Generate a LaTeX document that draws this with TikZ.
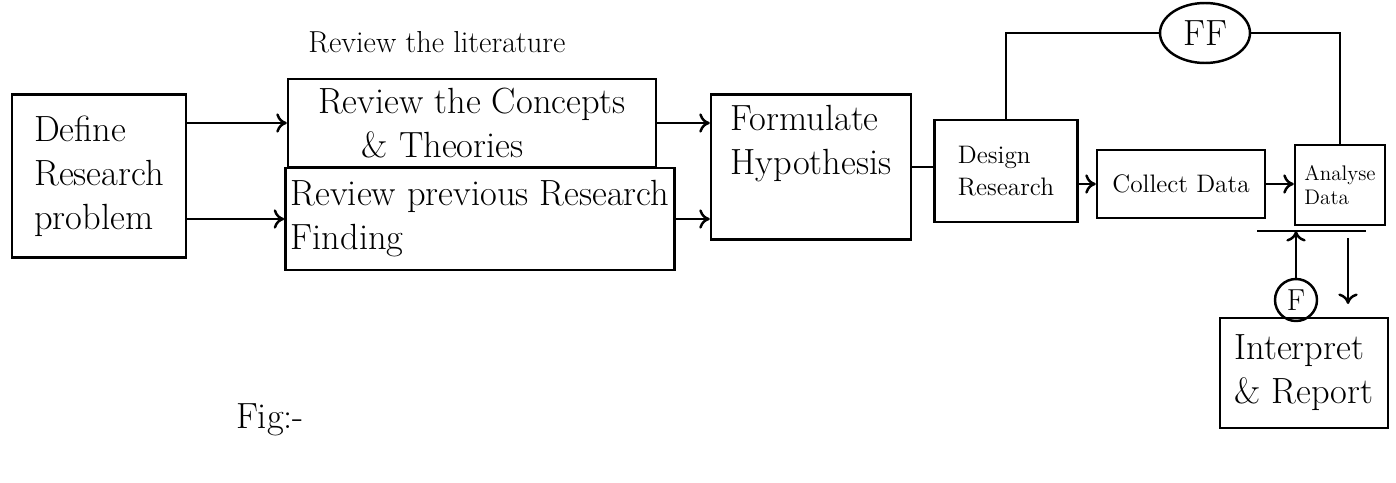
\documentclass[tikz,border=0pt]{standalone}
\usetikzlibrary{arrows.meta,shapes.geometric}
\begin{document}
\begin{tikzpicture}[x=0.02cm,y=-0.02cm]

    \tikzset{
      stage/.style={
        draw,
        line width=1.4pt,
        inner sep=3pt,
        font=\huge,
        align=left,
      },
      flow/.style={
        line width=1.4pt,
        -{To[length=6pt,width=11pt]},
      },
      wire/.style={
        line width=1.4pt,
      },
    }
    \useasboundingbox (0,0) rectangle (1396,483);

	\node[stage, minimum width=3.48cm, minimum height=3.26cm] (def) at (99,176) {Define\\Research\\problem};
	\node[stage, minimum width=7.36cm, minimum height=1.76cm] (con) at (472,123) {Review the Concepts\\\hspace{1.2em}\& Theories};
	\node[stage, minimum width=7.78cm, minimum height=2.04cm] (prev) at (480,219) {Review previous Research\\Finding};
	\node[stage, minimum width=4cm, minimum height=2.9cm] (form) at (811,167) {Formulate\\Hypothesis\\[0.3em]};
	\node[stage, font=\Large, minimum width=2.86cm, minimum height=2.04cm] (des) at (1006,171) {Design\\Research};
	\node[stage, font=\Large, minimum width=3.36cm, minimum height=1.36cm] (col) at (1181,184) {Collect Data};
	\node[stage, font=\large, minimum width=1.8cm, minimum height=1.6cm] (ana) at (1340,185) {Analyse\\Data};
	\node[stage, minimum width=3.36cm, minimum height=2.2cm] (rep) at (1304,373) {Interpret\\\& Report};
	\node[draw, ellipse, line width=1.4pt, font=\huge, minimum width=1.8cm, minimum height=1.2cm, inner sep=0pt] (ff) at (1205,33) {FF};
	\node[draw, circle, line width=1.4pt, font=\LARGE, minimum size=0.84cm, inner sep=0pt] (f) at (1296,300) {F};

	\draw [color={black}] (437,42) node[anchor = center, font=\LARGE] (lit) {Review the literature};
	\draw [color={black}] (270,420) node[anchor = center, font=\huge] (fig) {Fig:-};

	\coordinate (bl) at (1257,231);
	\coordinate (br) at (1366,231);
	\coordinate (dtop) at (1348,238);
	\coordinate (dbot) at (1348,304);

	\draw[flow] (def.east |- con.west) -- (con.west);
	\draw[flow] (def.east |- prev.west) -- (prev.west);
	\draw[flow] (con.east) -- (con.east -| form.west);
	\draw[flow] (prev.east) -- (prev.east -| form.west);
	\draw[wire] (form.east) -- (form.east -| des.west);
	\draw[flow] (des.east |- col.west) -- (col.west);
	\draw[flow] (col.east) -- (col.east -| ana.west);
	\draw[wire] (des.north) -- (des.north |- ff.west) -- (ff.west);
	\draw[wire] (ff.east) -| (ana.north);
	\draw[wire] (bl) -- (br);
	\draw[flow] (f.north) -- (f.north |- bl);
	\draw[flow] (dtop) -- (dbot);

\end{tikzpicture}
\end{document}
